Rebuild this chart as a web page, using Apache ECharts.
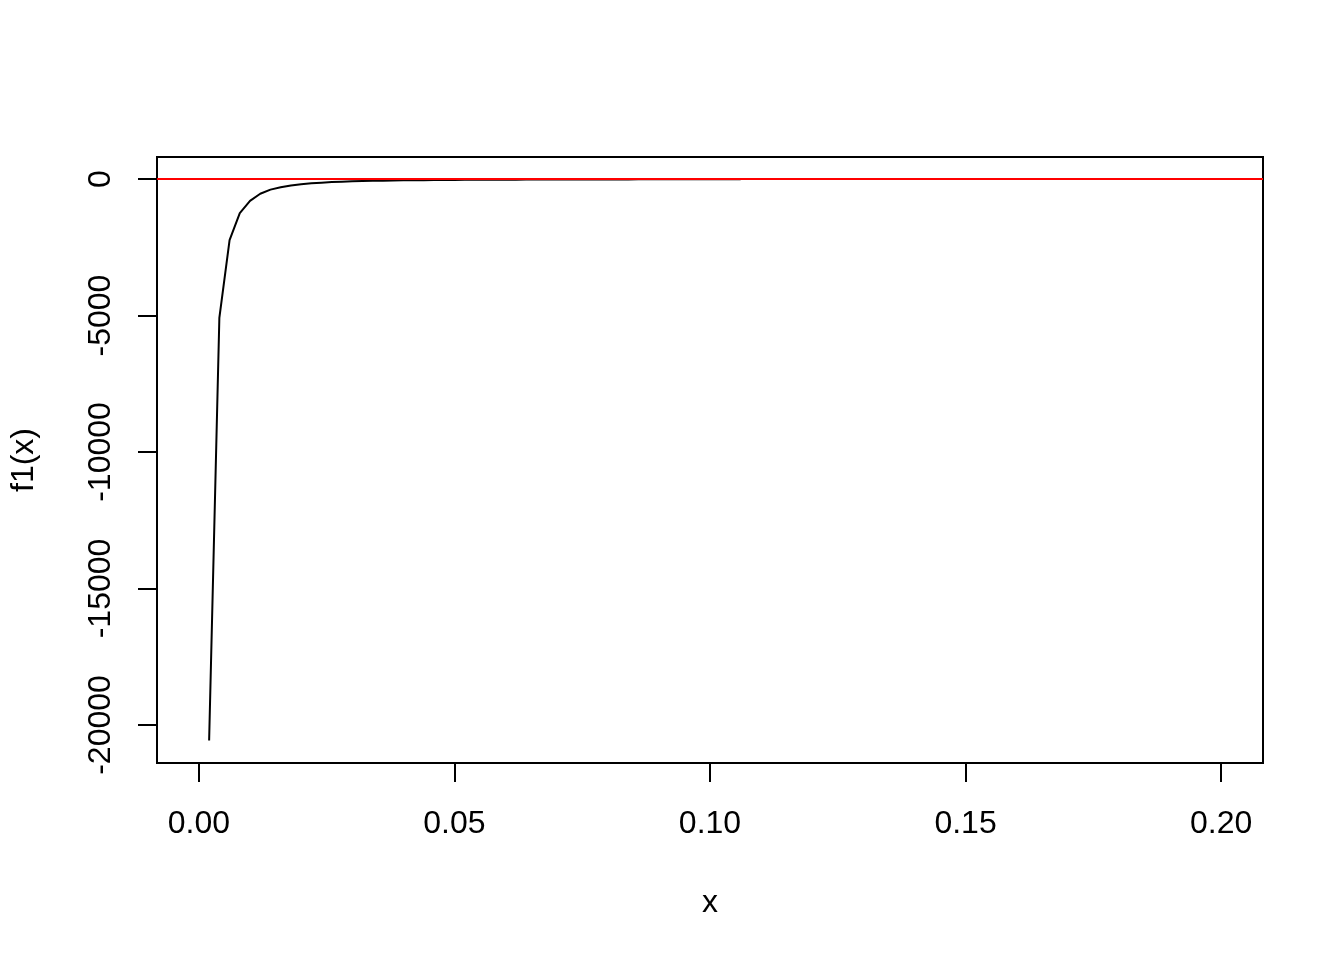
<!DOCTYPE html>
<html>
<head>
<meta charset="utf-8">
<script src="https://cdn.jsdelivr.net/npm/echarts@6/dist/echarts.min.js"></script>
<style>html,body{margin:0;padding:0;background:#fff}#c{width:1344px;height:960px}</style>
</head>
<body>
<div id="c"></div>
<script>
// x sample points (curve of f1 over [0, 0.2], finite only up to ~0.106)
const xValues = [0.002,0.004,0.006,0.008,0.010,0.012,0.014,0.016,0.018,0.020,
  0.022,0.024,0.026,0.028,0.030,0.032,0.034,0.036,0.038,0.040,
  0.042,0.044,0.046,0.048,0.050,0.052,0.054,0.056,0.058,0.060,
  0.062,0.064,0.066,0.068,0.070,0.072,0.074,0.076,0.078,0.080,
  0.082,0.084,0.086,0.088,0.090,0.092,0.094,0.096,0.098,0.100,
  0.102,0.104,0.106];
const f1Values = [-20570,-5090,-2240,-1250,-800,-540,-390,-300,-235,-190,
  -158,-133,-114,-98,-86,-76,-68,-61,-55,-50,
  -46,-42,-39,-36,-33,-31,-29,-27,-26,-24,
  -23,-22,-21,-20,-19,-18,-17,-16.5,-16,-15,
  -14.5,-14,-13.5,-13,-12.5,-12,-11.5,-11,-10.5,-10,
  -9.7,-9.4,-9];
const xTicks = [0, 0.05, 0.10, 0.15, 0.20];
const yTicks = [-20000, -15000, -10000, -5000, 0];
const hLine = 0;

const font = '"Liberation Sans", Arial, sans-serif';
const chart = echarts.init(document.getElementById('c'), null, {renderer: 'canvas'});
chart.setOption({
  animation: false,
  backgroundColor: '#fff',
  grid: {left: 157, top: 157, width: 1106, height: 606, show: true, containLabel: false,
    outerBoundsMode: 'none',
    borderColor: '#000', borderWidth: 2, backgroundColor: 'transparent'},
  xAxis: {
    type: 'value', min: -0.0082, max: 0.2082,
    name: 'x', nameLocation: 'middle', nameGap: 124,
    nameTextStyle: {fontFamily: font, fontSize: 32, color: '#000'},
    axisLine: {show: false, onZero: false},
    splitLine: {show: false},
    axisTick: {show: true, customValues: xTicks, length: 19, lineStyle: {color: '#000', width: 2}},
    axisLabel: {customValues: xTicks, margin: 45, fontFamily: font, fontSize: 32, color: '#000',
      formatter: v => v.toFixed(2)}
  },
  yAxis: {
    type: 'value', min: -21392, max: 806,
    name: 'f1(x)', nameLocation: 'middle', nameGap: 117, nameRotate: 90,
    nameTextStyle: {fontFamily: font, fontSize: 32, color: '#000'},
    axisLine: {show: false, onZero: false},
    splitLine: {show: false},
    axisTick: {show: true, customValues: yTicks, length: 19, lineStyle: {color: '#000', width: 2}},
    axisLabel: {customValues: yTicks, margin: 40, rotate: 90, fontFamily: font, fontSize: 32, color: '#000',
      formatter: v => String(v)}
  },
  series: [{
    type: 'line',
    data: xValues.map((x, i) => [x, f1Values[i]]),
    showSymbol: false,
    lineStyle: {color: '#000', width: 2},
    itemStyle: {color: '#000'},
    z: 2,
    markLine: {
      silent: true, symbol: ['none', 'none'],
      label: {show: false},
      lineStyle: {color: '#ff0000', width: 2, type: 'solid'},
      data: [{yAxis: hLine}],
      z: 3
    }
  }]
});
</script>
</body>
</html>
